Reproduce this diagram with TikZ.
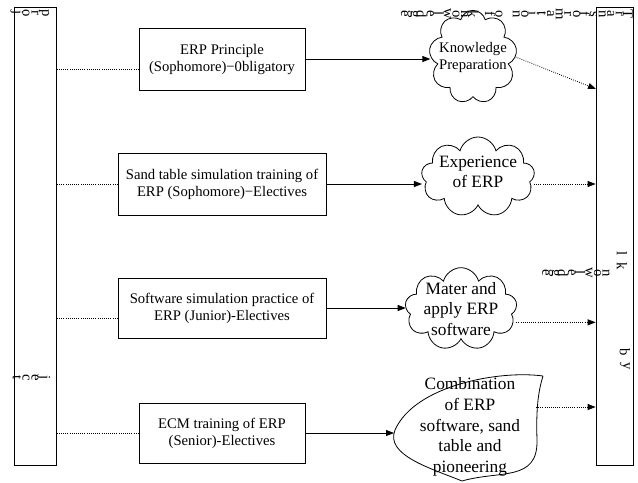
\documentclass[tikz,border=0pt]{standalone}
\usepackage{fontspec}
\setmainfont{Liberation Serif}
\usetikzlibrary{positioning,arrows.meta,shapes.symbols}
\tikzset{
	course/.style={draw,line width=0.6pt,align=center,inner sep=2pt,font=\fontsize{11}{12.75}\selectfont},
	idea/.style={cloud,cloud puffs=9,cloud ignores aspect,draw,line width=0.6pt,inner sep=0pt},
	bar/.style={draw,line width=0.6pt,minimum height=343.5pt,inner sep=0pt},
	flow/.style={-{Triangle[length=6pt,width=4.5pt]},line width=0.6pt},
	feed/.style={densely dotted,line width=0.6pt},
	glyph/.style={rotate=-90,inner sep=0pt,font=\fontsize{11}{11}\selectfont}
}
% letters turned on their side, one after the other
\newcommand{\glyphrun}[6]{%
	\foreach \c [count=\i from 0] in {#6} {\node[glyph] (#1-\i) at ({#2+\i*#4},{#3+\i*#5}) {\c};}}

\begin{document}
\begin{tikzpicture}[x=0.75pt,y=-0.75pt]
	\useasboundingbox (0,0) rectangle (638,482);
	% the two bars
	\node[bar,minimum width=31.5pt] (pbar) at (35,236) {};
	\node[bar,minimum width=27.75pt] (kbar) at (614.5,236) {};
	% courses
	\node[course,minimum width=124.5pt,minimum height=46.5pt] (erp) at (222,59) {ERP Principle\\(Sophomore)−0bligatory};
	\node[course,minimum width=156pt,minimum height=46.5pt] (sand) at (222,184) {Sand table simulation training of\\ERP (Sophomore)−Electives};
	\node[course,minimum width=156pt,minimum height=45pt] (soft) at (222,308) {Software simulation practice of\\ERP (Junior)-Electives};
	\node[course,minimum width=124.5pt,minimum height=45pt] (ecm) at (222,433) {ECM training of ERP\\(Senior)-Electives};
	% outcomes
	\node[idea,minimum width=66pt,minimum height=70pt,
		label={[align=center,font=\fontsize{11}{12.75}\selectfont]center:Knowledge\\Preparation}] (prep) at (473,57) {};
	\node[idea,minimum width=85pt,minimum height=60pt,
		label={[align=center,yshift=3.5pt,font=\fontsize{13}{15}\selectfont]center:Experience\\of ERP}] (exp) at (478,177) {};
	\node[idea,minimum width=84pt,minimum height=62pt,
		label={[align=center,font=\fontsize{13}{15.5}\selectfont]center:Mater and\\apply ERP\\software}] (mater) at (461,309) {};
	\node[align=center,inner sep=0pt,font=\fontsize{13}{15.5}\selectfont] (mix) at (470,427) {Combination\\of ERP\\software, sand\\table and\\pioneering};
	\draw[line width=0.6pt] (543,376) .. controls (500,370) and (415,385) .. (395,430)
		.. controls (385,455) and (430,468) .. (462,481)
		.. controls (500,470) and (538,482) .. (537,440)
		.. controls (536,410) and (538,392) .. (543,376);
	\coordinate (mixin) at (394,433);
	\coordinate (mixout) at (536,407);
	\coordinate (k1) at (596,89);
	% from the left bar
	\draw[feed] ([yshift=-7.5pt]erp.west) -- ([yshift=-7.5pt]erp.west -| pbar.east);
	\draw[feed] (sand.west) -- (sand.west -| pbar.east);
	\draw[feed] ([yshift=-7.5pt]soft.west) -- ([yshift=-7.5pt]soft.west -| pbar.east);
	\draw[feed] (ecm.west) -- (ecm.west -| pbar.east);
	% courses to outcomes
	\draw[flow] (erp.east) -- (erp.east -| prep.west);
	\draw[flow] (sand.east) -- (sand.east -| exp.west);
	\draw[flow] (soft.east) -- (soft.east -| mater.west);
	\draw[flow] (ecm.east) -- (mixin);
	% outcomes to the right bar
	\draw[feed,flow] (prep.east) -- (k1);
	\draw[feed,flow] (exp.east |- sand.east) -- (sand.east -| kbar.west);
	\draw[feed,flow] ([yshift=-10pt]mater.east) -- ([yshift=-10pt]mater.east -| kbar.west);
	\draw[feed,flow] (mixout) -- (mixout -| kbar.west);
	% side texts
	\glyphrun{proj}{44}{13}{-9}{0}{p,r,o,j}
	\glyphrun{ject}{44}{378}{-9}{0}{j,e,c,t}
	\glyphrun{trans}{628}{14}{-8.6}{0}{T,r,a,n,s,f,o,r,m,a,t,i,o,n,{},o,f,{},k,n,o,w,l,e,d,g,e}
	\glyphrun{lk}{622}{254}{0}{12}{l,k}
	\glyphrun{nowl}{606}{273}{-8.6}{0}{n,o,w,l,e,d,g,e}
	\glyphrun{by}{625}{352}{0}{14}{b,y}
\end{tikzpicture}
\end{document}
